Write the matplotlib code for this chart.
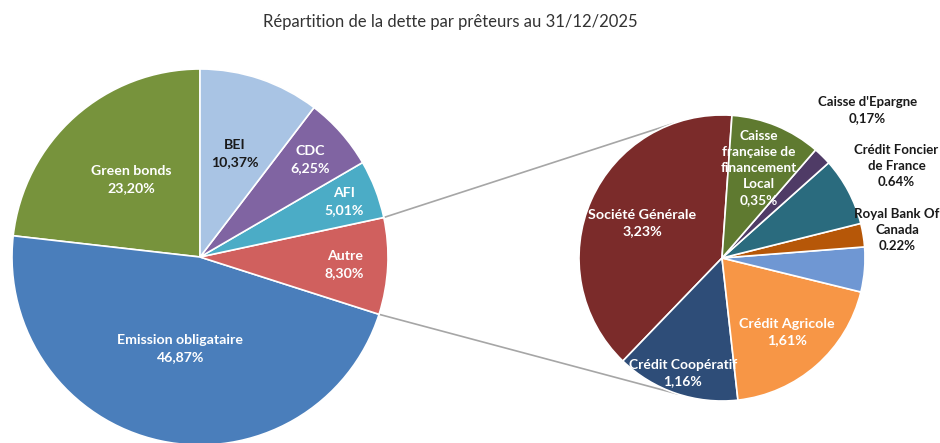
import numpy as np
import matplotlib.pyplot as plt

plt.rcParams['font.family'] = ['Lato', 'DejaVu Sans']

# Main pie (percent of total debt), order counter-clockwise from the top
main_labels = ['Green bonds', 'Emission obligataire', 'Autre', 'AFI', 'CDC', 'BEI']
main_values = [23.20, 46.87, 8.30, 5.01, 6.25, 10.37]
main_pct = ['23,20%', '46,87%', '8,30%', '5,01%', '6,25%', '10,37%']
main_colors = ['#77933C', '#4A7EBB', '#D0605E', '#4BACC6', '#8064A2', '#A9C4E4']

# Secondary pie: split of "Autre"
sub_labels = ['Société Générale', 'Crédit Coopératif', 'Crédit Agricole', '',
              'Royal Bank Of\nCanada', 'Crédit Foncier\nde France', "Caisse d'Epargne",
              'Caisse\nfrançaise de\nfinancement\nLocal']
sub_values = [3.23, 1.16, 1.61, 0.42, 0.22, 0.64, 0.17, 0.85]
sub_pct = ['3,23%', '1,16%', '1,61%', '', '0.22%', '0.64%', '0,17%', '0,35%']
sub_colors = ['#7B2B2A', '#2E4D78', '#F79646', '#6F97D3', '#B65708', '#2A6B7E',
              '#4F3B66', '#5F7A30']

W, H = 940, 443
fig = plt.figure(figsize=(W / 100, H / 100), dpi=100)
ax = fig.add_axes([0, 0, 1, 1])

c1, r1 = (200, H - 257), 188
c2, r2 = (722, H - 258), 143

w1, _ = ax.pie(main_values, colors=main_colors, startangle=90, center=c1, radius=r1,
               wedgeprops=dict(edgecolor='white', linewidth=1.2))
w2, _ = ax.pie(sub_values, colors=sub_colors, startangle=86, center=c2, radius=r2,
               wedgeprops=dict(edgecolor='white', linewidth=1.2))

def put(wedges, names, pcts, fracs, colors, sizes, c, r, ls):
    for w, n, p, f, col, s in zip(wedges, names, pcts, fracs, colors, sizes):
        if not n:
            continue
        a = np.deg2rad((w.theta1 + w.theta2) / 2)
        x = c[0] + f * r * np.cos(a)
        y = c[1] + f * r * np.sin(a)
        ax.text(x, y, n + '\n' + p, ha='center', va='center', fontsize=s,
                fontweight='bold', color=col, linespacing=ls)

put(w1, main_labels, main_pct, [0.55, 0.5, 0.77, 0.82, 0.78, 0.58],
    ['white'] * 5 + ['#1a1a1a'], [10.2] * 6, c1, r1, 1.5)
put(w2, sub_labels, sub_pct, [0.61, 0.85, 0.69, 0, 1.24, 1.38, 1.45, 0.68],
    ['white', 'white', 'white', 'white', '#1a1a1a', '#1a1a1a', '#1a1a1a', 'white'],
    [10.3, 10, 10.3, 10, 9.5, 9.5, 9.5, 9.8], c2, r2, 1.4)

# connector lines from the "Autre" slice to the secondary pie
autre = w1[main_labels.index('Autre')]
for t1, t2 in [(autre.theta2, 110), (autre.theta1, 252)]:
    p1 = (c1[0] + r1 * np.cos(np.deg2rad(t1)), c1[1] + r1 * np.sin(np.deg2rad(t1)))
    p2 = (c2[0] + r2 * np.cos(np.deg2rad(t2)), c2[1] + r2 * np.sin(np.deg2rad(t2)))
    ax.plot([p1[0], p2[0]], [p1[1], p2[1]], color='#A6A6A6', lw=1.2, zorder=0)

ax.set_xlim(0, W)
ax.set_ylim(0, H)
ax.set_aspect('equal')
ax.axis('off')

fig.text(0.479, 1 - 22 / H, 'Répartition de la dette par prêteurs au 31/12/2025',
         ha='center', va='center', fontsize=12, color='#333333')

fig.savefig('out.png', dpi=100, facecolor='white')
